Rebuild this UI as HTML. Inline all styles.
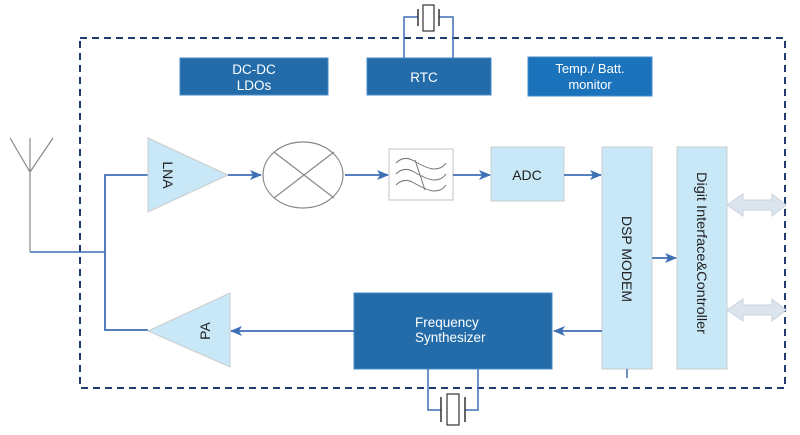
<!DOCTYPE html>
<html><head><meta charset="utf-8"><style>html,body{margin:0;padding:0;background:#fff}</style></head><body>
<svg width="800" height="430" viewBox="0 0 800 430" xmlns="http://www.w3.org/2000/svg" font-family="Liberation Sans, sans-serif">
<defs>
<marker id="a" markerWidth="12" markerHeight="10" refX="11" refY="5" orient="auto" markerUnits="userSpaceOnUse"><path d="M0,0 L12,5 L0,10 L3,5 Z" fill="#3f6fb5"/></marker>
</defs>
<rect x="80" y="38" width="705" height="350" fill="none" stroke="#1f3a6e" stroke-width="2" stroke-dasharray="7,5"/>
<path d="M404,58 V17 H418 M453,58 V17 H439" fill="none" stroke="#3f6fb5" stroke-width="1.5"/>
<path d="M418,9 V26 M439,9 V26" stroke="#333" stroke-width="1.5"/>
<rect x="423" y="5" width="11" height="26" fill="#fff" stroke="#333" stroke-width="1.2"/>
<rect x="180" y="58" width="148" height="37" fill="#236ba9" stroke="#4a8ac8"/>
<text x="254" y="74" fill="#fff" font-size="13.5" text-anchor="middle">DC-DC</text>
<text x="254" y="90" fill="#fff" font-size="13.5" text-anchor="middle">LDOs</text>
<rect x="367" y="58" width="124" height="37" fill="#236ba9" stroke="#4a8ac8"/>
<text x="424" y="82" fill="#fff" font-size="13.5" text-anchor="middle">RTC</text>
<rect x="528" y="57" width="124" height="39" fill="#1a73bb" stroke="#4a8ac8"/>
<text x="590" y="73" fill="#fff" font-size="13" text-anchor="middle">Temp./ Batt.</text>
<text x="590" y="89" fill="#fff" font-size="13" text-anchor="middle">monitor</text>
<path d="M10,138 L30,172 L53,138 M30,138 V252" fill="none" stroke="#888" stroke-width="1.2"/>
<path d="M30,252 H105" stroke="#3f6fb5" stroke-width="1.5"/>
<path d="M148,175 H105 V330 H148" fill="none" stroke="#3f6fb5" stroke-width="1.8"/>
<polygon points="148,138 228,175 148,212" fill="#c8e7f7" stroke="#ccc"/>
<text transform="translate(163,175) rotate(90)" font-size="14" text-anchor="middle" fill="#222">LNA</text>
<line x1="228" y1="175" x2="261" y2="175" stroke="#3f6fb5" stroke-width="1.8" marker-end="url(#a)"/>
<ellipse cx="303" cy="175" rx="40" ry="33" fill="#fff" stroke="#888" stroke-width="1.2"/>
<path d="M274,152 L334,198 M334,152 L274,198" stroke="#888" stroke-width="1.2"/>
<line x1="345" y1="175" x2="388" y2="175" stroke="#3f6fb5" stroke-width="1.8" marker-end="url(#a)"/>
<rect x="389" y="149" width="64" height="51" fill="#fff" stroke="#ccc" stroke-width="1.2"/>
<path d="M396,163 q8,-8 18,-2 q14,8 20,8 q8,0 12,-6 M396,174 q8,-8 18,-2 q14,8 20,8 q8,0 12,-6 M396,185 q8,-8 18,-2 q14,8 20,8 q8,0 12,-6 M415,160 L425,190" fill="none" stroke="#777" stroke-width="1"/>
<line x1="453" y1="175" x2="490" y2="175" stroke="#3f6fb5" stroke-width="1.8" marker-end="url(#a)"/>
<rect x="491" y="147" width="73" height="54" fill="#c8e7f7" stroke="#ccc"/>
<text x="527" y="180" font-size="14" text-anchor="middle" fill="#222">ADC</text>
<line x1="564" y1="175" x2="601" y2="175" stroke="#3f6fb5" stroke-width="1.8" marker-end="url(#a)"/>
<rect x="602" y="147" width="50" height="222" fill="#c8e7f7" stroke="#ccc"/>
<text transform="translate(622,259) rotate(90)" font-size="14" text-anchor="middle" fill="#222">DSP  MODEM</text>
<line x1="627" y1="369" x2="627" y2="378" stroke="#3f6fb5" stroke-width="1.5"/>
<line x1="652" y1="258" x2="676" y2="258" stroke="#3f6fb5" stroke-width="1.8" marker-end="url(#a)"/>
<rect x="677" y="147" width="50" height="222" fill="#c8e7f7" stroke="#ccc"/>
<text transform="translate(697,253) rotate(90)" font-size="14" text-anchor="middle" fill="#222" textLength="162" lengthAdjust="spacingAndGlyphs">Digit Interface&amp;Controller</text>
<polygon points="727,205 743,194 743,200 772,200 772,194 786,205 772,216 772,210 743,210 743,216" fill="#dce4ee" stroke="#c8d2de"/>
<polygon points="727,310 743,299 743,305 772,305 772,299 786,310 772,321 772,315 743,315 743,321" fill="#dce4ee" stroke="#c8d2de"/>
<rect x="354" y="293" width="198" height="76" fill="#236ba9" stroke="#4a8ac8"/>
<text x="415" y="327" fill="#fff" font-size="13.5">Frequency</text>
<text x="415" y="342" fill="#fff" font-size="13.5">Synthesizer</text>
<line x1="602" y1="331" x2="554" y2="331" stroke="#3f6fb5" stroke-width="1.8" marker-end="url(#a)"/>
<line x1="354" y1="331" x2="231" y2="331" stroke="#3f6fb5" stroke-width="1.8" marker-end="url(#a)"/>
<polygon points="230,293 230,367 148,331" fill="#c8e7f7" stroke="#ccc"/>
<text transform="translate(210,331) rotate(-90)" font-size="14" text-anchor="middle" fill="#222">PA</text>
<path d="M428,369 V410 H441 M478,369 V410 H465" fill="none" stroke="#3f6fb5" stroke-width="1.5"/>
<path d="M441,397 V422 M465,397 V422" stroke="#333" stroke-width="1.5"/>
<rect x="447" y="394" width="12" height="31" fill="#fff" stroke="#333" stroke-width="1.2"/>
</svg>
</body></html>
